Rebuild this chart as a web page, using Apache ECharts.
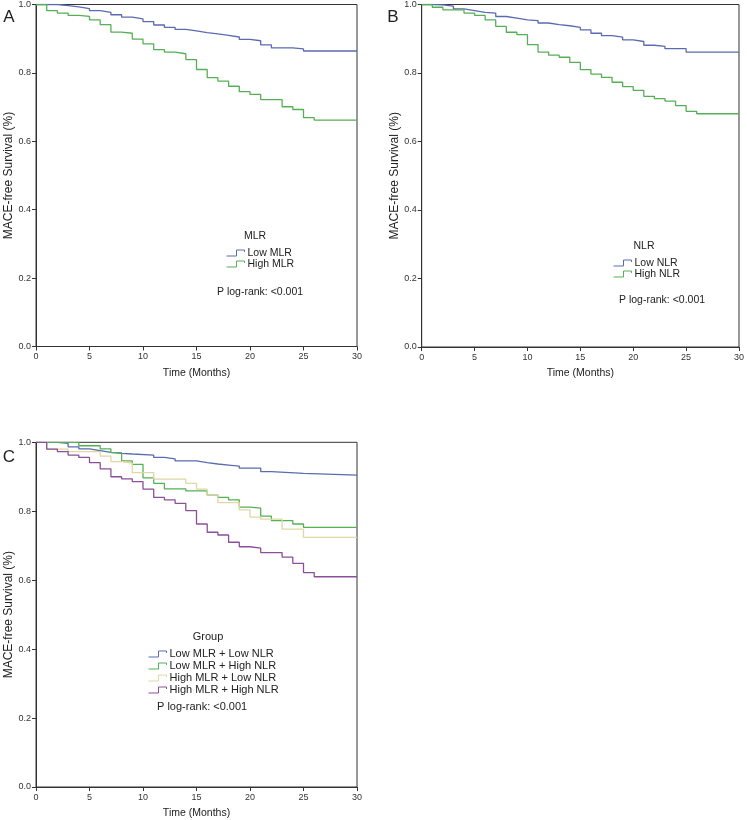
<!DOCTYPE html>
<html><head><meta charset="utf-8">
<script src="https://cdn.jsdelivr.net/npm/echarts@6/dist/echarts.min.js"></script>
<style>html,body{margin:0;padding:0;background:#fff}#c{width:747px;height:820px}</style>
</head><body><div id="c"></div>
<script>
// ---- data ----
const xMin = 0, xMax = 30, xStep = 5;
const yMin = 0, yMax = 1, yStep = 0.2;
const xTitle = 'Time (Months)';
const yTitle = 'MACE-free Survival (%)';
const panelLetters = ['A', 'B', 'C'];
const legendTitles = ['MLR', 'NLR', 'Group'];
const pText = 'P log-rank: <0.001';

// Panel A
const lowMLR_t = [0,2,3,4,5,6,7,8,9,10,11,12,13,14,15,16,17,18,19,20,21,22,24,25,30];
const lowMLR_s = [1,0.997,0.993,0.988,0.982,0.977,0.970,0.963,0.958,0.950,0.940,0.933,0.927,0.923,0.918,0.914,0.910,0.905,0.898,0.894,0.882,0.873,0.870,0.864,0.864];
const highMLR_t = [0,1,2,3,4,5,6,7,8,9,10,11,12,13,14,15,16,17,18,19,20,21,23,24,25,26,30];
const highMLR_s = [1,0.982,0.975,0.968,0.965,0.955,0.941,0.919,0.916,0.899,0.885,0.868,0.861,0.856,0.839,0.810,0.786,0.776,0.761,0.745,0.737,0.722,0.701,0.693,0.669,0.662,0.662];
// Panel B
const lowNLR_t = [0,1,2,3,4,5,6,7,8,9,10,11,12,13,14,15,16,17,18,19,20,21,22,23,25,30];
const lowNLR_s = [1,0.999,0.995,0.987,0.982,0.977,0.975,0.965,0.960,0.955,0.953,0.946,0.941,0.938,0.933,0.926,0.916,0.909,0.905,0.897,0.892,0.881,0.878,0.871,0.861,0.861];
const highNLR_t = [0,1,2,4,5,6,7,8,9,10,11,12,13,14,15,16,17,18,19,20,21,22,23,24,25,26,30];
const highNLR_s = [1,0.992,0.9845,0.975,0.968,0.955,0.936,0.919,0.912,0.883,0.861,0.852,0.846,0.831,0.810,0.797,0.787,0.773,0.760,0.749,0.732,0.725,0.718,0.705,0.688,0.681,0.681];
// Panel C
const lowLow_t = [0,2,3,4,5,6,7,8,9,11,12,13,15,16,17,18,19,21,22,25,30];
const lowLow_s = [1,0.997,0.987,0.981,0.976,0.971,0.968,0.966,0.963,0.956,0.952,0.946,0.941,0.937,0.934,0.931,0.925,0.915,0.910,0.905,0.905];
const lowHigh_t = [0,4,6,7,8,9,10,11,12,14,16,17,18,19,20,21,22,24,25,30];
const lowHigh_s = [1,0.990,0.981,0.970,0.946,0.936,0.897,0.881,0.865,0.859,0.847,0.840,0.833,0.812,0.809,0.786,0.773,0.763,0.753,0.753];
const highLow_t = [0,1,3,6,7,8,9,11,14,15,16,17,19,20,21,23,25,30];
const highLow_s = [1,0.980,0.973,0.960,0.944,0.940,0.912,0.893,0.881,0.864,0.847,0.825,0.804,0.783,0.777,0.748,0.724,0.724];
const highHigh_t = [0,1,2,3,4,5,6,7,8,9,10,11,12,13,14,15,16,17,18,19,20,21,23,24,25,26,30];
const highHigh_s = [1,0.980,0.973,0.963,0.956,0.941,0.923,0.900,0.894,0.886,0.864,0.840,0.833,0.823,0.802,0.763,0.739,0.731,0.710,0.697,0.693,0.680,0.667,0.649,0.622,0.610,0.610];

const curves = [
  {name:'Low MLR', panel:0, t:lowMLR_t, s:lowMLR_s, color:'#5b6bb0'},
  {name:'High MLR', panel:0, t:highMLR_t, s:highMLR_s, color:'#55b055'},
  {name:'Low NLR', panel:1, t:lowNLR_t, s:lowNLR_s, color:'#5b6bb0'},
  {name:'High NLR', panel:1, t:highNLR_t, s:highNLR_s, color:'#55b055'},
  {name:'Low MLR + Low NLR', panel:2, t:lowLow_t, s:lowLow_s, color:'#5b6bb0'},
  {name:'Low MLR + High NLR', panel:2, t:lowHigh_t, s:lowHigh_s, color:'#55b055'},
  {name:'High MLR + Low NLR', panel:2, t:highLow_t, s:highLow_s, color:'#ddd8a4'},
  {name:'High MLR + High NLR', panel:2, t:highHigh_t, s:highHigh_s, color:'#8a4f98'}
];

// ---- layout ----
const FONT = 'Liberation Sans, Arial, sans-serif';
const grids = [
  {left:36, top:3, width:321, height:343.5},
  {left:421.7, top:3, width:321, height:344},
  {left:36, top:442.3, width:321, height:345}
];
const axisColor = '#333';

const chart = echarts.init(document.getElementById('c'), null, {renderer:'canvas'});

const xAxes = grids.map((g,i)=>({
  gridIndex:i, type:'value', min:xMin, max:xMax, interval:xStep,
  name:xTitle, nameLocation:'middle', nameGap:21,
  nameTextStyle:{fontFamily:FONT, fontSize:10.5, color:'#222'},
  axisLine:{show:true, lineStyle:{color:axisColor, width:1}},
  axisTick:{show:true, inside:false, length:4, lineStyle:{color:axisColor}},
  axisLabel:{fontFamily:FONT, fontSize:9, color:'#333', margin:6},
  splitLine:{show:false}
}));
const yAxes = grids.map((g,i)=>({
  gridIndex:i, type:'value', min:yMin, max:yMax, interval:yStep,
  name:yTitle, nameLocation:'middle', nameGap:21, nameRotate:90,
  nameTextStyle:{fontFamily:FONT, fontSize:12, color:'#222'},
  axisLine:{show:true, lineStyle:{color:axisColor, width:1}},
  axisTick:{show:true, inside:false, length:4, lineStyle:{color:axisColor}},
  axisLabel:{fontFamily:FONT, fontSize:9, color:'#333', margin:5, formatter:v=>v.toFixed(1)},
  splitLine:{show:false}
}));

const series = curves.map(c=>({
  name:c.name, type:'line', step:'end', xAxisIndex:c.panel, yAxisIndex:c.panel,
  data:c.t.map((t,i)=>[t, c.s[i]]),
  showSymbol:false, symbol:'none',
  lineStyle:{color:c.color, width:1.3},
  itemStyle:{color:c.color},
  emphasis:{disabled:true}, silent:true, z:3
}));

const iconPath = 'path://M0,6 L10,6 L10,0 L18,0 L18,2';
function mkLegend(names, left, top, fontSize, lineH){
  return {
    show:true, orient:'vertical', left:left, top:top, padding:0,
    itemWidth:18, itemHeight:6, itemGap:0, icon:iconPath, selectedMode:false,
    textStyle:{fontFamily:FONT, fontSize:fontSize, color:'#222', lineHeight:lineH, padding:[0,0,0,-2]},
    data:names.map(n=>{
      const c = curves.find(k=>k.name===n);
      return {name:n, itemStyle:{color:'transparent', borderColor:c.color, borderWidth:1}};
    })
  };
}
const legends = [
  mkLegend(['Low MLR','High MLR'], 226, 247.5, 10.5, 11),
  mkLegend(['Low NLR','High NLR'], 613, 257.5, 10.5, 11),
  mkLegend(['Low MLR + Low NLR','Low MLR + High NLR','High MLR + Low NLR','High MLR + High NLR'], 148, 648, 11, 12)
];

function txt(x,y,s,size,align){
  return {type:'text', x:x, y:y, silent:true,
    style:{text:s, fontFamily:FONT, fontSize:size, fill:'#222', textAlign:align||'left', textVerticalAlign:'middle'}};
}
const graphics = [
  txt(9,17,panelLetters[0],17,'center'),
  txt(393,17,panelLetters[1],17,'center'),
  txt(9,457,panelLetters[2],17,'center'),
  txt(255,236,legendTitles[0],10.5,'center'),
  txt(644,246,legendTitles[1],10.5,'center'),
  txt(208,637,legendTitles[2],11,'center'),
  txt(217,292,pText,10.5,'left'),
  txt(619,300,pText,10.5,'left'),
  txt(157,707,pText,11,'left')
];

chart.setOption({
  backgroundColor:'#fff',
  animation:false,
  textStyle:{fontFamily:FONT},
  grid:grids.map(g=>Object.assign({show:true, borderColor:axisColor, borderWidth:1, backgroundColor:'transparent', containLabel:false}, g)),
  xAxis:xAxes, yAxis:yAxes,
  legend:legends,
  series:series,
  graphic:graphics
});
</script></body></html>
